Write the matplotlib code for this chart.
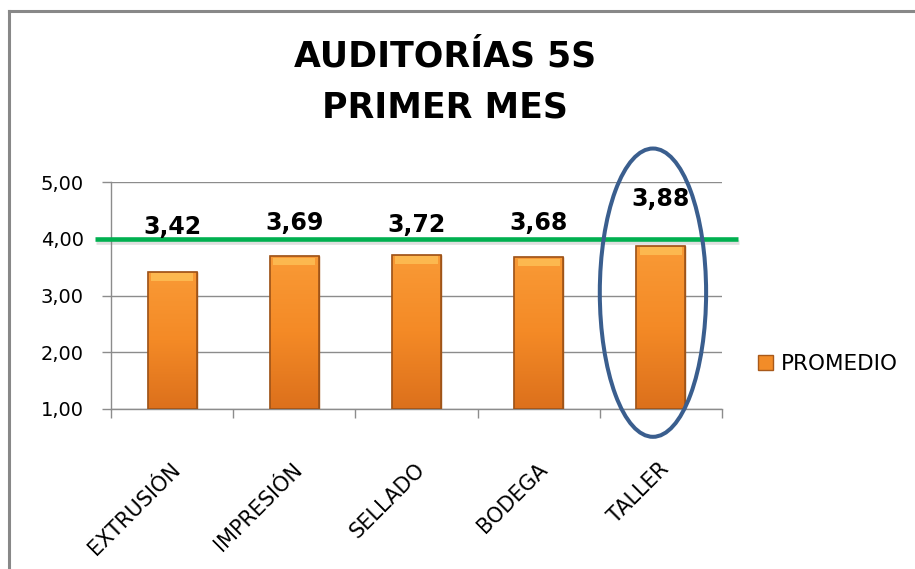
import numpy as np
import matplotlib
matplotlib.use("Agg")
import matplotlib.pyplot as plt
from matplotlib.patches import Ellipse, Rectangle
from matplotlib.colors import LinearSegmentedColormap
import matplotlib.patheffects as pe
import matplotlib.transforms as mtransforms

# ---- data ----
categories = ["EXTRUSIÓN", "IMPRESIÓN", "SELLADO", "BODEGA", "TALLER"]
promedio = [3.42, 3.69, 3.72, 3.68, 3.88]
value_labels = ["3,42", "3,69", "3,72", "3,68", "3,88"]
target = 4.0
y_ticks = [1, 2, 3, 4, 5]
y_tick_labels = ["1,00", "2,00", "3,00", "4,00", "5,00"]
series_name = "PROMEDIO"
title_lines = ["AUDITORÍAS 5S", "PRIMER MES"]

# ---- layout (not data) ----
label_baseline_y = [4.09, 4.15, 4.12, 4.15, 4.585]
BASE = 1.0

plt.rcParams['font.family'] = ['DejaVu Sans']

fig = plt.figure(figsize=(9.15, 5.69), dpi=100)
ax = fig.add_axes([111/915, 1-409/569, (722-111)/915, (409-182)/569])

x = np.arange(len(categories))
heights = [v - BASE for v in promedio]
bars = ax.bar(x, heights, bottom=BASE, width=0.4, color="#F28C28",
              edgecolor="#A8591A", linewidth=1.0, zorder=3, label=series_name)

# gradient overlay on each bar
cmap = LinearSegmentedColormap.from_list("og", ["#DC701C", "#F48A26", "#F99A36"])
grad = np.linspace(0, 1, 256).reshape(-1, 1)
for p in bars.patches:
    bx, by = p.get_x(), p.get_y()
    bw, bh = p.get_width(), p.get_height()
    im = ax.imshow(grad, cmap=cmap, aspect='auto', origin='lower',
                   extent=[bx, bx + bw, by, by + bh], zorder=3.1)
    im.set_clip_path(p)
    # top bevel highlight
    ax.add_patch(Rectangle((bx + bw*0.07, by + bh - 0.16), bw*0.86, 0.13,
                           facecolor="#FDBE55", edgecolor="none", alpha=0.85, zorder=3.2))
    ax.add_patch(Rectangle((bx, by), bw, bh, facecolor="none",
                           edgecolor="#9E5318", linewidth=1.2, zorder=3.3))

ax.set_xlim(-0.5, len(categories) - 0.5)
ax.set_ylim(1, 5)
ax.set_yticks(y_ticks)
ax.set_yticklabels(y_tick_labels, fontsize=14)
ax.yaxis.grid(True, color="#8C8C8C", linewidth=1.0, zorder=0)
ax.set_axisbelow(True)

ax.set_xticks(x)
ax.set_xticklabels(categories, fontsize=15, rotation=45, ha='right',
                   rotation_mode='anchor')
ax.tick_params(axis='x', length=0, pad=36)
offset = mtransforms.ScaledTranslation(-2/100, 0, fig.dpi_scale_trans)
for lbl in ax.get_xticklabels():
    lbl.set_transform(lbl.get_transform() + offset)
ax.set_xticks(np.arange(-0.5, len(categories)), minor=True)
ax.tick_params(axis='x', which='minor', length=6.5, color="#8C8C8C", width=1)
ax.tick_params(axis='y', length=6.5, color="#8C8C8C", width=1, pad=13)

for s in ['top', 'right']:
    ax.spines[s].set_visible(False)
for s in ['left', 'bottom']:
    ax.spines[s].set_color("#8C8C8C")
    ax.spines[s].set_linewidth(1.0)

# target line
trans = mtransforms.blended_transform_factory(ax.transAxes, ax.transData)
ax.plot([-0.027, 1.026], [target, target], transform=trans, color="#00B050",
        linewidth=3.3, clip_on=False, zorder=4, solid_capstyle='butt',
        path_effects=[pe.SimpleLineShadow(offset=(1, -2.5), alpha=0.25, shadow_color='gray'),
                      pe.Normal()])

# value labels
for xi, lab, ly in zip(x, value_labels, label_baseline_y):
    ax.text(xi, ly, lab, ha='center', va='baseline', fontsize=17,
            fontweight='bold', color='black', zorder=5)

# ellipse highlighting TALLER
ax.add_patch(Ellipse((x[-1] - 0.065, 3.05), 0.87, 5.08, fill=False, edgecolor="#3A5E8E",
                     linewidth=2.9, clip_on=False, zorder=6))

# title
fig.text(445/915, 1-66/569, title_lines[0], ha='center', va='baseline',
         fontsize=25, fontweight='bold')
fig.text(445/915, 1-117/569, title_lines[1], ha='center', va='baseline',
         fontsize=25, fontweight='bold')

# legend
leg = fig.legend(handles=[bars], labels=[series_name], loc='center left',
                 bbox_to_anchor=(749/915, 1-364/569), frameon=False,
                 fontsize=15.5, handlelength=0.7, handleheight=0.7,
                 handletextpad=0.4, borderaxespad=0)

# chart border (top and left visible)
fig.add_artist(plt.Line2D([9/915, 1.0], [1-11/569, 1-11/569], color="#888888",
                          linewidth=2.2, transform=fig.transFigure))
fig.add_artist(plt.Line2D([9/915, 9/915], [0, 1-11/569], color="#888888",
                          linewidth=2.2, transform=fig.transFigure))

fig.savefig("out.png", dpi=100)
